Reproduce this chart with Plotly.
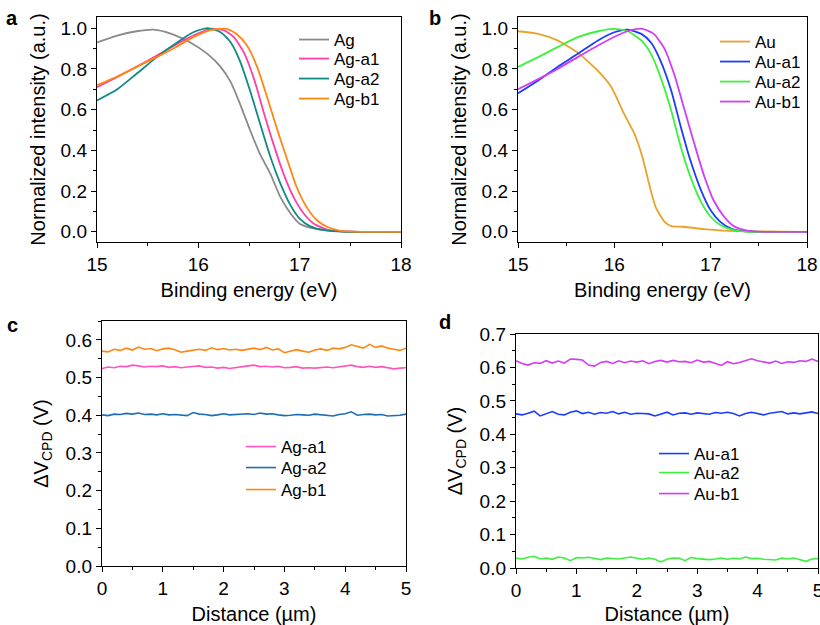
import plotly.graph_objects as go

# ---- panel a: UPS cut-off, Ag series ----
ag_E = [15.0, 15.2, 15.39, 15.56, 15.72, 15.92, 16.09, 16.22, 16.32, 16.41, 16.51, 16.61,
        16.71, 16.81, 16.91, 17.0, 17.17, 17.37, 17.6, 18.0]
ag = [0.93, 0.964, 0.985, 0.993, 0.975, 0.93, 0.874, 0.81, 0.735, 0.63, 0.50, 0.38,
      0.286, 0.17, 0.09, 0.04, 0.013, 0.003, 0.0, 0.0]

ag_a2_E = [15.0, 15.2, 15.39, 15.59, 15.79, 15.95, 16.09, 16.22, 16.32, 16.41, 16.51, 16.61,
           16.71, 16.81, 16.91, 17.0, 17.1, 17.24, 17.45, 18.0]
ag_a2 = [0.645, 0.70, 0.776, 0.858, 0.93, 0.98, 1.0, 0.98, 0.93, 0.84, 0.694, 0.53,
         0.37, 0.237, 0.13, 0.065, 0.028, 0.008, 0.0, 0.0]

ag_a1_E = [15.0, 15.2, 15.39, 15.59, 15.79, 15.95, 16.12, 16.25, 16.35, 16.45, 16.55, 16.64,
           16.74, 16.84, 16.94, 17.04, 17.14, 17.27, 17.43, 17.6, 18.0]
ag_a1 = [0.71, 0.76, 0.81, 0.866, 0.923, 0.964, 0.997, 0.99, 0.956, 0.88, 0.75, 0.596,
         0.433, 0.286, 0.17, 0.09, 0.04, 0.011, 0.002, 0.0, 0.0]

ag_b1_E = [15.0, 15.2, 15.39, 15.59, 15.79, 15.95, 16.12, 16.28, 16.38, 16.48, 16.58, 16.68,
           16.78, 16.88, 16.97, 17.07, 17.17, 17.27, 17.4, 17.6, 18.0]
ag_b1 = [0.72, 0.763, 0.81, 0.858, 0.91, 0.956, 0.99, 0.997, 0.97, 0.915, 0.81, 0.66,
         0.50, 0.35, 0.22, 0.12, 0.057, 0.025, 0.005, 0.0, 0.0]

# ---- panel b: UPS cut-off, Au series ----
au_E = [15.0, 15.21, 15.41, 15.62, 15.83, 15.97, 16.1, 16.21, 16.29, 16.36, 16.43, 16.52,
        16.59, 16.72, 16.93, 17.14, 17.5, 18.0]
au = [0.985, 0.972, 0.94, 0.88, 0.79, 0.71, 0.58, 0.48, 0.37, 0.237, 0.12, 0.05,
      0.028, 0.025, 0.013, 0.006, 0.002, 0.0]

au_a2_E = [15.0, 15.21, 15.41, 15.62, 15.83, 16.0, 16.14, 16.28, 16.38, 16.48, 16.59, 16.69,
           16.79, 16.9, 17.0, 17.1, 17.24, 17.4, 18.0]
au_a2 = [0.81, 0.858, 0.907, 0.956, 0.985, 0.997, 0.985, 0.94, 0.874, 0.76, 0.596, 0.417,
         0.27, 0.147, 0.074, 0.033, 0.008, 0.0, 0.0]

au_a1_E = [15.0, 15.21, 15.41, 15.62, 15.83, 16.0, 16.14, 16.28, 16.38, 16.48, 16.59, 16.69,
           16.79, 16.9, 17.0, 17.1, 17.21, 17.34, 17.5, 18.0]
au_a1 = [0.68, 0.743, 0.81, 0.874, 0.94, 0.98, 0.993, 0.972, 0.93, 0.84, 0.694, 0.515,
         0.35, 0.204, 0.106, 0.049, 0.016, 0.003, 0.0, 0.0]

au_b1_E = [15.0, 15.21, 15.41, 15.62, 15.83, 16.03, 16.17, 16.29, 16.41, 16.52, 16.62, 16.72,
           16.83, 16.93, 17.03, 17.14, 17.24, 17.38, 17.55, 18.0]
au_b1 = [0.70, 0.75, 0.80, 0.858, 0.915, 0.964, 0.99, 0.997, 0.972, 0.90, 0.776, 0.613,
         0.433, 0.278, 0.155, 0.074, 0.028, 0.006, 0.0, 0.0]

# ---- panels c, d: CPD line profiles, 0..5 um every 0.1 um ----
dist = [i / 10 for i in range(51)]

cpd_ag_a1 = [0.524, 0.528, 0.526, 0.530, 0.529, 0.533, 0.531, 0.528, 0.530, 0.529, 0.531,
             0.527, 0.529, 0.526, 0.528, 0.530, 0.531, 0.527, 0.528, 0.525, 0.527, 0.524,
             0.527, 0.529, 0.531, 0.533, 0.529, 0.530, 0.528, 0.530, 0.526, 0.527, 0.529,
             0.525, 0.526, 0.525, 0.527, 0.528, 0.526, 0.529, 0.530, 0.533, 0.529, 0.527,
             0.530, 0.527, 0.529, 0.525, 0.523, 0.525, 0.526]
cpd_ag_a2 = [0.401, 0.399, 0.403, 0.402, 0.405, 0.403, 0.406, 0.402, 0.403, 0.401, 0.404,
             0.401, 0.402, 0.400, 0.399, 0.407, 0.403, 0.402, 0.399, 0.401, 0.404, 0.401,
             0.402, 0.403, 0.404, 0.402, 0.406, 0.403, 0.404, 0.401, 0.399, 0.400, 0.402,
             0.401, 0.400, 0.403, 0.401, 0.399, 0.398, 0.402, 0.404, 0.409, 0.400, 0.402,
             0.403, 0.401, 0.402, 0.398, 0.399, 0.400, 0.403]
cpd_ag_b1 = [0.570, 0.568, 0.575, 0.572, 0.578, 0.573, 0.581, 0.575, 0.577, 0.571, 0.576,
             0.578, 0.574, 0.567, 0.570, 0.573, 0.575, 0.572, 0.579, 0.574, 0.577, 0.573,
             0.575, 0.572, 0.576, 0.578, 0.574, 0.580, 0.573, 0.576, 0.566, 0.571, 0.574,
             0.570, 0.567, 0.573, 0.576, 0.572, 0.578, 0.576, 0.580, 0.587, 0.582, 0.578,
             0.588, 0.580, 0.584, 0.578, 0.575, 0.572, 0.578]

cpd_au_a1 = [0.461, 0.458, 0.463, 0.469, 0.455, 0.462, 0.468, 0.460, 0.458, 0.466, 0.470,
             0.462, 0.466, 0.460, 0.465, 0.463, 0.468, 0.461, 0.466, 0.460, 0.463, 0.462,
             0.461, 0.455, 0.460, 0.466, 0.458, 0.463, 0.464, 0.460, 0.464, 0.462, 0.460,
             0.465, 0.463, 0.466, 0.462, 0.455, 0.462, 0.466, 0.461, 0.458, 0.463, 0.465,
             0.468, 0.461, 0.464, 0.461, 0.463, 0.467, 0.462]
cpd_au_a2 = [0.030, 0.027, 0.032, 0.035, 0.027, 0.030, 0.026, 0.033, 0.030, 0.022, 0.031,
             0.030, 0.032, 0.028, 0.025, 0.030, 0.029, 0.027, 0.030, 0.033, 0.029, 0.026,
             0.030, 0.026, 0.018, 0.026, 0.030, 0.029, 0.022, 0.032, 0.028, 0.026, 0.025,
             0.027, 0.030, 0.026, 0.029, 0.027, 0.033, 0.028, 0.029, 0.026, 0.025, 0.024,
             0.030, 0.027, 0.030, 0.026, 0.020, 0.027, 0.028]
cpd_au_b1 = [0.620, 0.612, 0.607, 0.614, 0.612, 0.620, 0.613, 0.619, 0.613, 0.625, 0.624,
             0.622, 0.607, 0.604, 0.615, 0.618, 0.612, 0.620, 0.614, 0.619, 0.616, 0.620,
             0.611, 0.618, 0.621, 0.616, 0.621, 0.617, 0.618, 0.614, 0.622, 0.616, 0.618,
             0.612, 0.606, 0.617, 0.611, 0.615, 0.620, 0.626, 0.620, 0.617, 0.613, 0.619,
             0.612, 0.617, 0.615, 0.620, 0.618, 0.625, 0.618]

FONT = "Liberation Sans, Arial, sans-serif"
W, H = 820, 625

fig = go.Figure()
legends = {}

# each trace gets its own legend so that the row spacing matches the original
def add(x, y, name, color, xa, ya, lx, ly, spline=True, width=1.8):
    key = "legend" if not legends else "legend%d" % (len(legends) + 1)
    legends[key] = dict(x=(lx - 6) / W, y=(H - ly) / H, xanchor="left", yanchor="middle",
                        bgcolor="rgba(0,0,0,0)", itemwidth=30,
                        font=dict(size=17, color="black", family=FONT))
    fig.add_trace(go.Scatter(x=x, y=y, name=name, mode="lines", showlegend=True,
                             line=dict(color=color, width=width,
                                       shape="spline" if spline else "linear", smoothing=0.6),
                             xaxis=xa, yaxis=ya, legend=key))

add(ag_E, ag, "Ag", "#8a8a8a", "x", "y", 300, 40)
add(ag_a1_E, ag_a1, "Ag-a1", "#ff3fa8", "x", "y", 300, 59)
add(ag_a2_E, ag_a2, "Ag-a2", "#0f8a84", "x", "y", 300, 79)
add(ag_b1_E, ag_b1, "Ag-b1", "#ff8612", "x", "y", 300, 99)

add(au_E, au, "Au", "#e8a22a", "x2", "y2", 721, 42)
add(au_a1_E, au_a1, "Au-a1", "#1a3cff", "x2", "y2", 721, 62)
add(au_a2_E, au_a2, "Au-a2", "#3cf03c", "x2", "y2", 721, 82)
add(au_b1_E, au_b1, "Au-b1", "#d23cf5", "x2", "y2", 721, 102)

add(dist, cpd_ag_a1, "Ag-a1", "#ff55bb", "x3", "y3", 247, 447, False, 1.6)
add(dist, cpd_ag_a2, "Ag-a2", "#1f6db5", "x3", "y3", 247, 468, False, 1.6)
add(dist, cpd_ag_b1, "Ag-b1", "#ff8612", "x3", "y3", 247, 490, False, 1.6)

add(dist, cpd_au_a1, "Au-a1", "#1a3cff", "x4", "y4", 660, 454, False, 1.6)
add(dist, cpd_au_a2, "Au-a2", "#3cf03c", "x4", "y4", 660, 473, False, 1.6)
add(dist, cpd_au_b1, "Au-b1", "#d23cf5", "x4", "y4", 660, 494, False, 1.6)

def ax(domain, rng, dtick, minor, title, standoff, anchor, fmt=None):
    d = dict(domain=domain, range=rng, dtick=dtick, tick0=0, anchor=anchor, automargin=False,
             showgrid=False, zeroline=False, showline=True, linecolor="black",
             linewidth=1.4, mirror=True, ticks="outside", ticklen=5, tickwidth=1.4,
             tickcolor="black", tickfont=dict(size=19, color="black", family=FONT),
             ticklabeloverflow="allow",
             minor=dict(dtick=minor, ticks="outside", ticklen=3, tickwidth=1.2,
                        tickcolor="black", showgrid=False),
             title=dict(text=title, font=dict(size=20, color="black", family=FONT),
                        standoff=standoff))
    if fmt:
        d["tickformat"] = fmt
    return d

pxd = lambda a, b: [a / W, b / W]
pyd = lambda top, bot: [(H - bot) / H, (H - top) / H]

fig.update_layout(
    width=W, height=H, margin=dict(l=0, r=0, t=0, b=0, autoexpand=False),
    plot_bgcolor="white", paper_bgcolor="white", showlegend=True,
    font=dict(family=FONT, color="black"),
    xaxis=ax(pxd(97, 401), [15, 18], 1, 0.5, "Binding energy (eV)", 8, "y"),
    yaxis=ax(pyd(17, 242), [-0.05, 1.055], 0.2, 0.1, "Normalized intensity (a.u.)", 9, "x", ".1f"),
    xaxis2=ax(pxd(518, 807), [15, 18], 1, 0.5, "Binding energy (eV)", 8, "y2"),
    yaxis2=ax(pyd(17, 242), [-0.05, 1.055], 0.2, 0.1, "Normalized intensity (a.u.)", 9, "x2", ".1f"),
    xaxis3=ax(pxd(102, 406), [0, 5], 1, 0.5, "Distance (µm)", 8, "y3"),
    yaxis3=ax(pyd(321, 566), [0, 0.65], 0.1, 0.05, "ΔV<sub>CPD</sub> (V)", 11, "x3", ".1f"),
    xaxis4=ax(pxd(516, 818), [0, 5], 1, 0.5, "Distance (µm)", 8, "y4"),
    yaxis4=ax(pyd(334, 568), [0, 0.7], 0.1, 0.05, "ΔV<sub>CPD</sub> (V)", 11, "x4", ".1f"),
    **legends,
)

for txt, x, y in [("a", 12, 18), ("b", 435, 18), ("c", 12, 325), ("d", 445, 322)]:
    fig.add_annotation(text="<b>%s</b>" % txt, x=x / W, y=(H - y) / H, xref="paper", yref="paper",
                       showarrow=False, xanchor="center", yanchor="middle",
                       font=dict(size=20, color="black", family=FONT))

# drop the page's default body margin so the figure sits at the window corner
fig.write_html("out.html", config={"displayModeBar": False},
               post_script="document.body.style.margin='0';")
